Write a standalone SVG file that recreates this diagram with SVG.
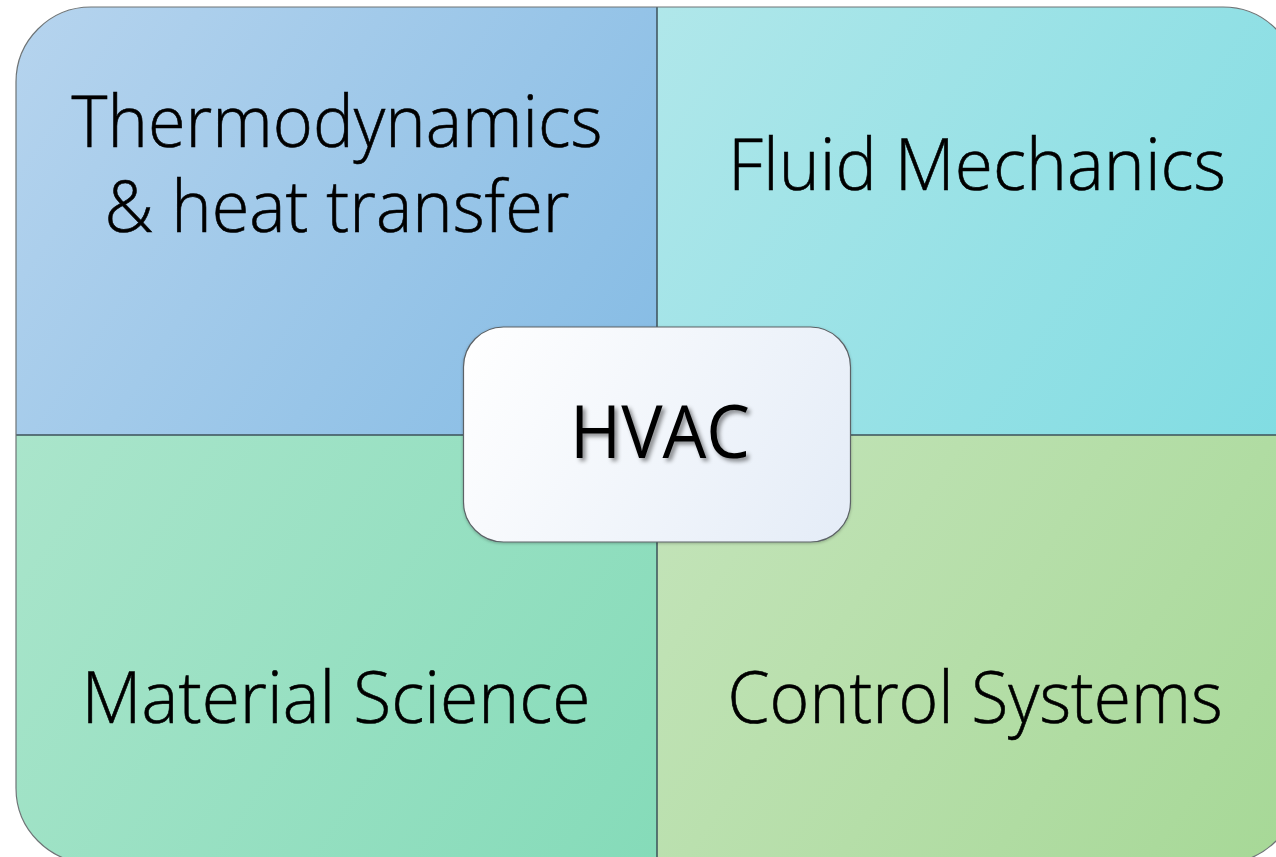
<svg xmlns="http://www.w3.org/2000/svg" width="1276" height="857" viewBox="0 0 1276 857">
  <style>
    .quad-text { font-family: "Open Sans", "Liberation Sans", sans-serif; font-weight: 300; font-size: 71px; fill: #000; stroke: #000; stroke-width: 0.6; text-anchor: middle; }
    .hub-text { font-family: "Open Sans", "Liberation Sans", sans-serif; font-weight: 400; font-size: 74px; fill: #000; text-anchor: middle; }
    .quad-edge { fill: none; stroke: #3c5058; stroke-width: 1.5; }
  </style>
  <defs>
    <linearGradient id="gTL" x1="16" y1="7" x2="657" y2="435" gradientUnits="userSpaceOnUse">
      <stop offset="0" stop-color="#b6d4ee"/>
      <stop offset="1" stop-color="#84bbe4"/>
    </linearGradient>
    <linearGradient id="gTR" x1="657" y1="7" x2="1298" y2="435" gradientUnits="userSpaceOnUse">
      <stop offset="0" stop-color="#b0e7ea"/>
      <stop offset="1" stop-color="#80dce2"/>
    </linearGradient>
    <linearGradient id="gBL" x1="16" y1="435" x2="657" y2="863" gradientUnits="userSpaceOnUse">
      <stop offset="0" stop-color="#aae5cb"/>
      <stop offset="1" stop-color="#85dbb9"/>
    </linearGradient>
    <linearGradient id="gBR" x1="657" y1="435" x2="1298" y2="863" gradientUnits="userSpaceOnUse">
      <stop offset="0" stop-color="#c4e4ba"/>
      <stop offset="1" stop-color="#a6d896"/>
    </linearGradient>
    <linearGradient id="gHub" x1="463" y1="327" x2="850" y2="542" gradientUnits="userSpaceOnUse">
      <stop offset="0" stop-color="#ffffff"/>
      <stop offset="1" stop-color="#e4ecf7"/>
    </linearGradient>
    <clipPath id="outerClip">
      <rect x="16" y="7" width="1282" height="856" rx="75" ry="75"/>
    </clipPath>
    <filter id="textShadow" x="-20%" y="-30%" width="140%" height="160%">
      <feGaussianBlur in="SourceAlpha" stdDeviation="2.2"/>
      <feOffset dx="3" dy="3" result="blur"/>
      <feFlood flood-color="#000" flood-opacity="0.45"/>
      <feComposite in2="blur" operator="in" result="shadow"/>
      <feMerge>
        <feMergeNode in="shadow"/>
        <feMergeNode in="SourceGraphic"/>
      </feMerge>
    </filter>
    <filter id="hubShadow" x="-10%" y="-10%" width="120%" height="120%">
      <feGaussianBlur in="SourceAlpha" stdDeviation="1.5"/>
      <feOffset dx="0" dy="1" result="b"/>
      <feFlood flood-color="#000" flood-opacity="0.25"/>
      <feComposite in2="b" operator="in" result="s"/>
      <feMerge>
        <feMergeNode in="s"/>
        <feMergeNode in="SourceGraphic"/>
      </feMerge>
    </filter>
  </defs>

  <!-- four quadrants, clipped to a shared rounded outline -->
  <g clip-path="url(#outerClip)">
    <g id="quad-thermo">
      <rect x="16" y="7" width="641" height="428" fill="url(#gTL)"/>
    </g>
    <g id="quad-fluid">
      <rect x="657" y="7" width="641" height="428" fill="url(#gTR)"/>
    </g>
    <g id="quad-material">
      <rect x="16" y="435" width="641" height="428" fill="url(#gBL)"/>
    </g>
    <g id="quad-control">
      <rect x="657" y="435" width="641" height="428" fill="url(#gBR)"/>
    </g>
    <!-- shared quadrant edges -->
    <line class="quad-edge" x1="657" y1="7" x2="657" y2="863"/>
    <line class="quad-edge" x1="16" y1="435" x2="1298" y2="435"/>
  </g>
  <rect x="16" y="7" width="1282" height="856" rx="75" ry="75" fill="none" stroke="#6e7476" stroke-width="1.2"/>

  <!-- quadrant labels -->
  <text class="quad-text" x="337" y="147" textLength="531" lengthAdjust="spacingAndGlyphs">Thermodynamics</text>
  <text class="quad-text" x="337" y="232" textLength="465" lengthAdjust="spacingAndGlyphs">&amp; heat transfer</text>
  <text class="quad-text" x="977" y="190" textLength="498" lengthAdjust="spacingAndGlyphs">Fluid Mechanics</text>
  <text class="quad-text" x="336" y="723" textLength="509" lengthAdjust="spacingAndGlyphs">Material Science</text>
  <text class="quad-text" x="975" y="723" textLength="495" lengthAdjust="spacingAndGlyphs">Control Systems</text>

  <!-- central hub -->
  <g id="hub-hvac">
    <rect x="463.5" y="327" width="387" height="215" rx="40" ry="40" fill="url(#gHub)" stroke="#5c6266" stroke-width="1.2" filter="url(#hubShadow)"/>
    <text class="hub-text" x="660" y="458" textLength="180" lengthAdjust="spacingAndGlyphs" filter="url(#textShadow)">HVAC</text>
  </g>
</svg>
